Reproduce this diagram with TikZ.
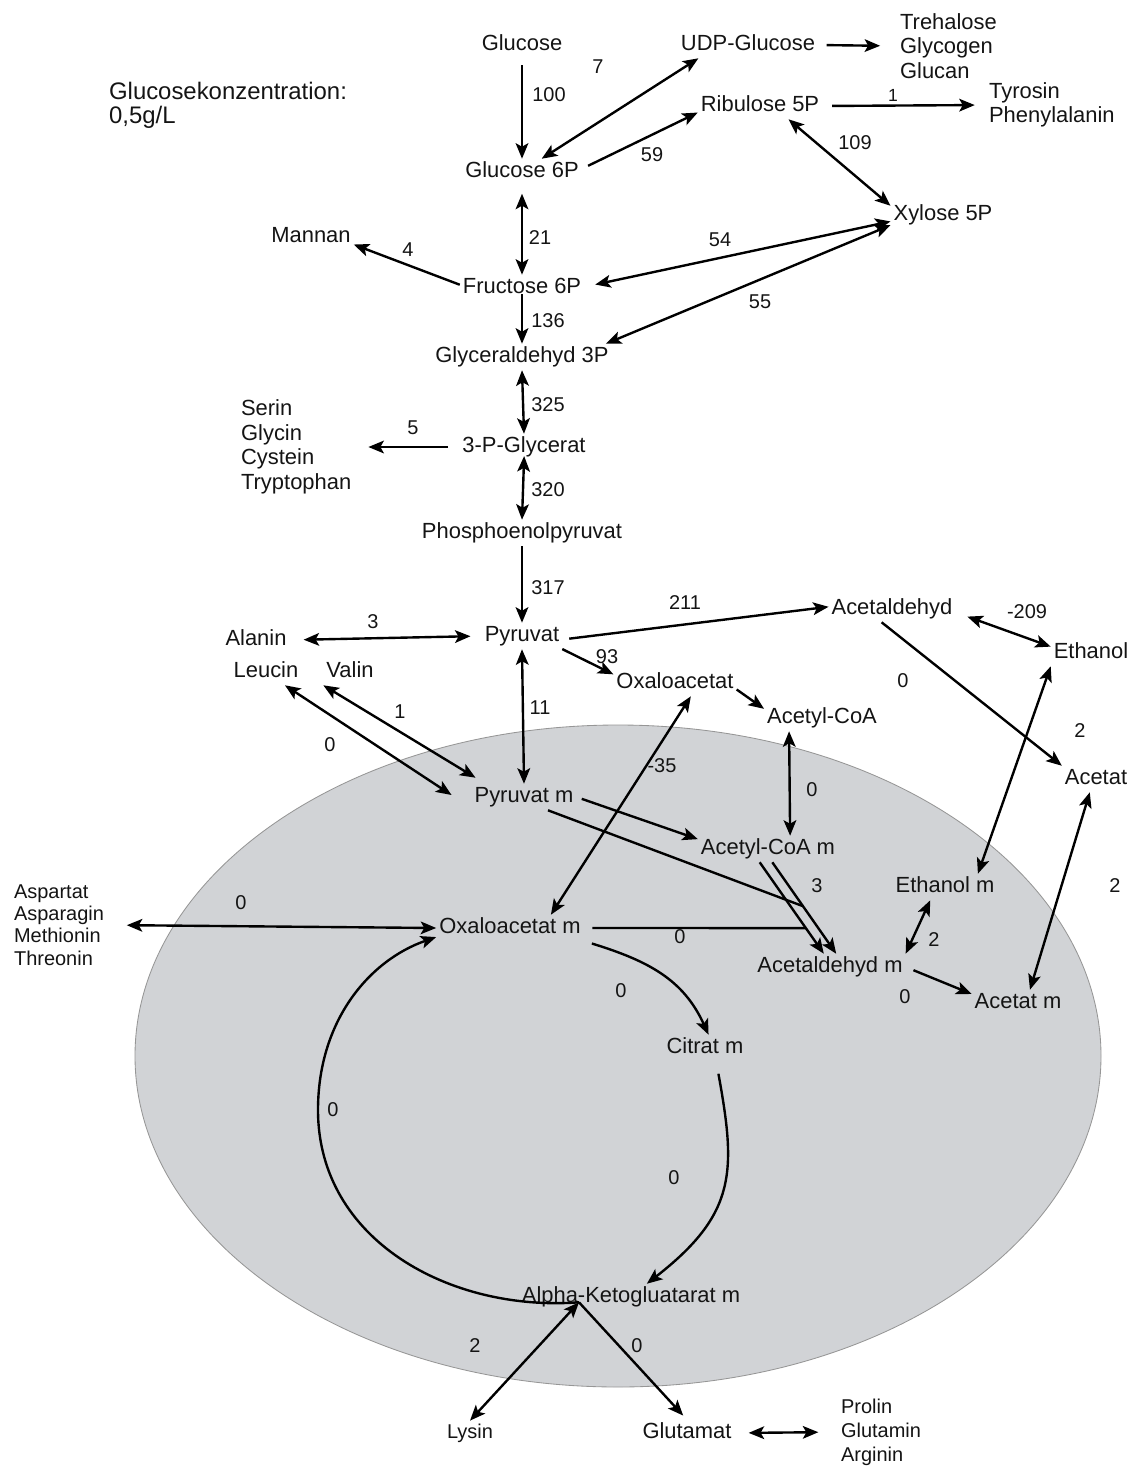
\documentclass[tikz,border=0pt]{standalone}
\usepackage{fontspec}
\setmainfont{Liberation Sans}
\usetikzlibrary{arrows.meta,calc}
\definecolor{ellfill}{RGB}{209,211,214}
\definecolor{ellline}{RGB}{150,150,150}
\definecolor{txt}{RGB}{20,20,20}
\newcommand\fmain{\fontsize{15.6}{17.4}\selectfont}
\newcommand\fsmall{\fontsize{14.2}{16.2}\selectfont}
\begin{document}
\begin{tikzpicture}[x=0.025cm,y=-0.025cm,
  lbl/.style={font=\fmain,text=txt,inner sep=2pt,text height=11.5pt,text depth=3pt},
  slbl/.style={font=\fsmall,text=txt,inner sep=2pt,text height=10.5pt,text depth=2.7pt},
  grp/.style={font=\fmain,text=txt,align=left,anchor=west,inner sep=2pt},
  sgrp/.style={font=\fontsize{14.2}{15.8}\selectfont,text=txt,align=left,anchor=west,inner sep=2pt},
  num/.style={font=\fsmall,text=txt,inner sep=1pt},
  tip/.tip={Stealth[length=11pt,width=9pt,inset=2.5pt]},
  arr/.style={line width=1.7pt,-tip},
  darr/.style={line width=1.7pt,tip-tip},
  ln/.style={line width=1.7pt}]
\useasboundingbox (0,0) rectangle (1136,1466);
% mitochondrion
\draw[fill=ellfill,draw=ellline,line width=0.6pt] (618,1056) ellipse [x radius=483,y radius=331];
% header
\node[grp,font=\fontsize{17}{17}\selectfont] (conc) at (106,105) {Glucosekonzentration:\\0,5g/L};
% metabolites
\node[lbl] (glc) at (522,45) {Glucose};
\node[lbl] (udp) at (748,45) {UDP-Glucose};
\node[grp] (treh) at (897,46) {Trehalose\\Glycogen\\Glucan};
\node[lbl] (rib) at (760,106) {Ribulose 5P};
\node[grp] (tyr) at (986,105) {Tyrosin\\Phenylalanin};
\node[lbl] (g6p) at (522,172) {Glucose 6P};
\node[lbl] (xyl) at (943,215) {Xylose 5P};
\node[lbl] (man) at (311,237) {Mannan};
\node[lbl] (f6p) at (522,288) {Fructose 6P};
\node[lbl] (gap) at (522,357) {Glyceraldehyd 3P};
\node[grp] (ser) at (238,447) {Serin\\Glycin\\Cystein\\Tryptophan};
\node[lbl] (pg) at (524,447) {3-P-Glycerat};
\node[lbl] (pep) at (522,533) {Phosphoenolpyruvat};
\node[lbl] (pyr) at (522,636) {Pyruvat};
\node[lbl] (ala) at (256,640) {Alanin};
\node[lbl] (leu) at (266,672) {Leucin};
\node[lbl] (val) at (350,672) {Valin};
\node[lbl] (oaa) at (675,683) {Oxaloacetat};
\node[lbl] (acoa) at (822,718) {Acetyl-CoA};
\node[lbl] (acald) at (892,609) {Acetaldehyd};
\node[lbl] (etoh) at (1091,653) {Ethanol};
\node[lbl] (acetat) at (1096,779) {Acetat};
\node[lbl] (pyrm) at (524,797) {Pyruvat m};
\node[lbl] (acoam) at (768,849) {Acetyl-CoA m};
\node[lbl] (etohm) at (945,887) {Ethanol m};
\node[sgrp] (asp) at (11,925) {Aspartat\\Asparagin\\Methionin\\Threonin};
\node[lbl] (oaam) at (510,928) {Oxaloacetat m};
\node[lbl] (acaldm) at (830,967) {Acetaldehyd m};
\node[lbl] (acetatm) at (1018,1003) {Acetat m};
\node[lbl] (citm) at (705,1048) {Citrat m};
\node[lbl] (akg) at (631,1297) {Alpha-Ketogluatarat m};
\node[slbl] (lys) at (470,1433) {Lysin};
\node[lbl] (glu) at (687,1433) {Glutamat};
\node[sgrp,font=\fontsize{14.2}{17}\selectfont] (pro) at (838,1432) {Prolin\\Glutamin\\Arginin};
% junction points
\coordinate (j1) at ($(acoam.288)!0.48!(acaldm.65)$);
\coordinate (j2) at (intersection of acoam.238--acaldm.115 and oaam.east--oaam.west);
\coordinate (akgj) at ($(akg.south)+(-52,-8)$);
% connectors
\draw[arr,shorten <=5pt] (glc.south) -- (g6p.north);
\draw[darr] (g6p.34) -- (udp.195);
\draw[arr,shorten <=5pt] (g6p.3) -- (rib.186);
\draw[arr,shorten <=6pt,shorten >=12pt] (udp.east) -- (treh.west);
\draw[arr,shorten <=7pt,shorten >=8pt] (rib.east) -- (tyr.west);
\draw[darr] (rib.335) -- (xyl.170);
\draw[darr,shorten <=6pt] (g6p.south) -- (f6p.north);
\draw[arr] (f6p.177) -- (man.350);
\draw[darr,shorten <=8pt] (f6p.1) -- (xyl.187);
\draw[darr] (gap.9) -- (xyl.191);
\draw[arr,shorten <=-5pt] (f6p.south) -- (gap.north);
\draw[darr] (gap.south) -- (pg.north);
\draw[arr,shorten <=8pt,shorten >=10pt] (pg.west) -- (ser.east);
\draw[darr,shorten <=-3pt] (pg.south) -- (pep.north);
\draw[arr] (pep.south) -- (pyr.north);
\draw[darr,shorten <=10pt,shorten >=8pt] (ala.east) -- (pyr.west);
\draw[arr,shorten <=5pt] (pyr.355) -- (acald.178);
\draw[arr] (pyr.342) -- (oaa.172);
\draw[darr] (pyr.south) -- (pyrm.north);
\draw[arr] (oaa.354) -- (acoa.171);
\draw[darr] (acoa.202) -- (acoam.31);
\draw[darr] (oaa.320) -- (oaam.18);
\draw[darr] (leu.325) -- ($(pyrm.west)+(-20,-2)$);
\draw[darr] (val.south west) -- ($(pyrm.north west)+(4,-6)$);
\draw[arr,shorten <=4pt] (pyrm.east) -- (acoam.172);
\draw[ln] (pyrm.331) -- (j1);
\draw[ln,shorten <=6pt] (oaam.east) -- (j2);
\draw[arr] (acoam.238) -- (acaldm.115);
\draw[arr] (acoam.288) -- (acaldm.65);
\draw[darr,shorten <=14pt] (asp.east) -- (oaam.west);
\draw[arr,shorten <=6pt] (oaam.350) .. controls +(65,20) and +(-25,-55) .. (citm.75);
\draw[arr,shorten <=9pt] (citm.310) .. controls +(20,110) and +(90,-70) .. (akg.40);
\draw[arr] (akgj) .. controls (450,1312) and (318,1240) .. (318,1110)
   .. controls (318,1020) and (370,960) .. (oaam.187);
\draw[darr] (akgj) -- (lys.north);
\draw[arr,shorten >=4pt] (akgj) -- (glu.north);
\draw[darr,shorten <=10pt,shorten >=14pt] (glu.east) -- (pro.west);
\draw[darr,shorten <=9pt] (acald.357) -- (etoh.171);
\draw[arr] (acald.232) -- (acetat.north west);
\draw[darr] (etoh.south west) -- (etohm.22);
\draw[darr] (acetat.245) -- (acetatm.48);
\draw[darr] (etohm.222) -- (acaldm.north east);
\draw[arr,shorten <=6pt] (acaldm.east) -- (acetatm.169);
% flux values
\node[num] (n1) at (549,95) {100};
\node[num] (n2) at (598,67) {7};
\node[num] (n3) at (652,155) {59};
\node[num,font=\fontsize{12.5}{13}\selectfont] (n4) at (893,95) {1};
\node[num] (n5) at (855,143) {109};
\node[num] (n6) at (540,238) {21};
\node[num] (n7) at (408,250) {4};
\node[num] (n8) at (720,240) {54};
\node[num] (n9) at (760,302) {55};
\node[num] (n10) at (548,321) {136};
\node[num] (n11) at (548,405) {325};
\node[num] (n12) at (413,428) {5};
\node[num] (n13) at (548,490) {320};
\node[num] (n14) at (548,588) {317};
\node[num] (n15) at (373,622) {3};
\node[num] (n16) at (685,603) {211};
\node[num] (n17) at (607,657) {93};
\node[num] (n18) at (540,708) {11};
\node[num] (n19) at (1027,612) {-209};
\node[num] (n20) at (903,681) {0};
\node[num] (n21) at (1080,731) {2};
\node[num] (n22) at (400,712) {1};
\node[num] (n23) at (330,745) {0};
\node[num] (n24) at (662,766) {-35};
\node[num] (n25) at (812,790) {0};
\node[num] (n26) at (817,886) {3};
\node[num] (n27) at (1115,886) {2};
\node[num] (n28) at (241,903) {0};
\node[num] (n29) at (680,937) {0};
\node[num] (n30) at (934,940) {2};
\node[num] (n31) at (905,997) {0};
\node[num] (n32) at (621,991) {0};
\node[num] (n33) at (333,1110) {0};
\node[num] (n34) at (674,1178) {0};
\node[num] (n35) at (475,1346) {2};
\node[num] (n36) at (637,1346) {0};
\end{tikzpicture}
\end{document}
